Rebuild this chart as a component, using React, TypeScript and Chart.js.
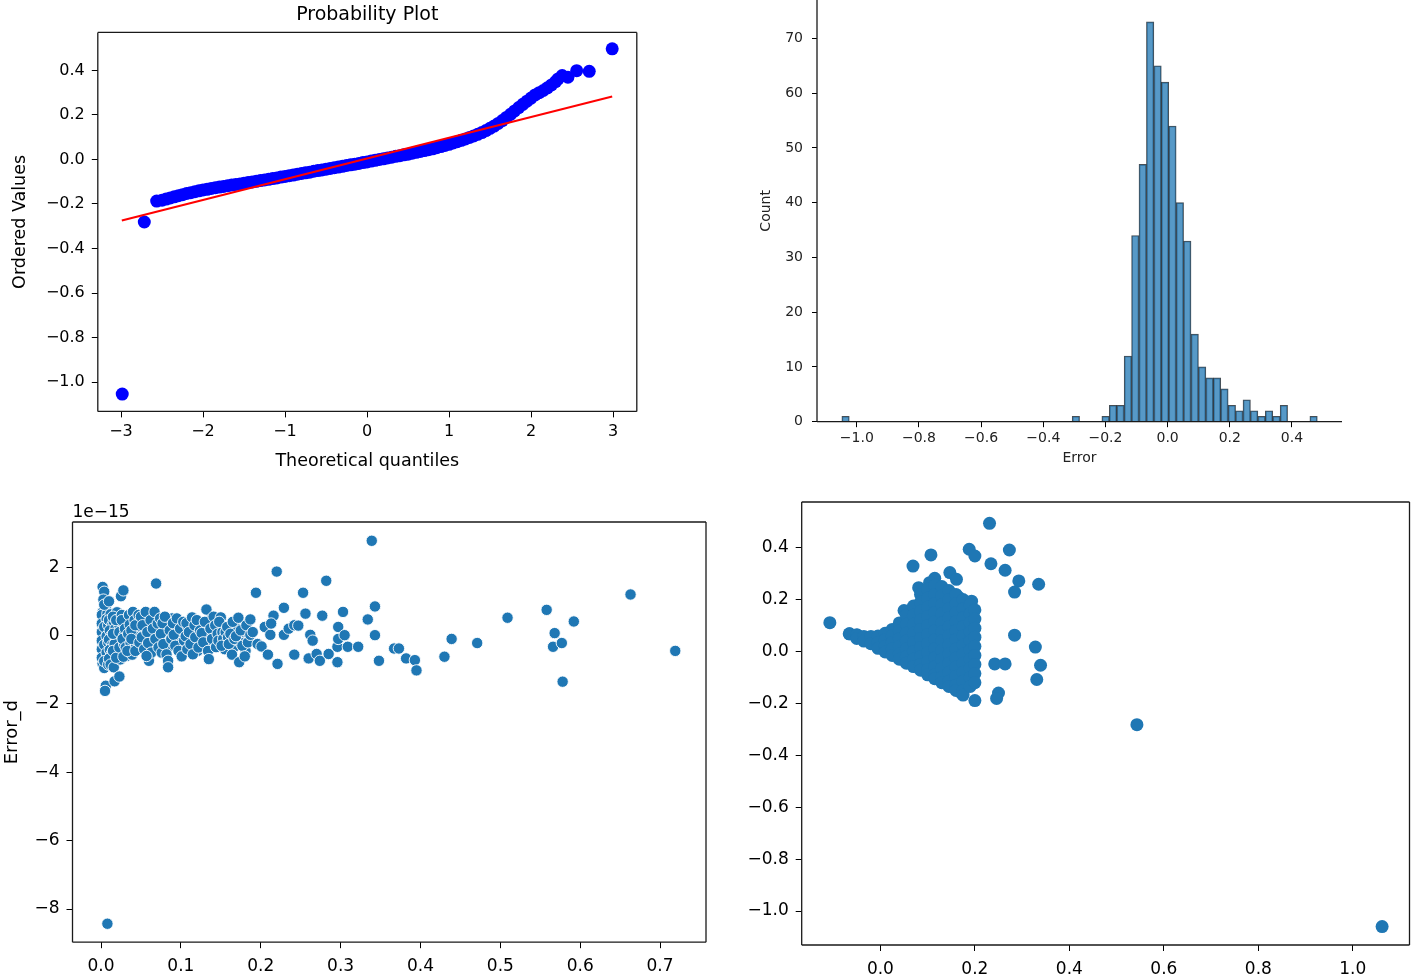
import React, { useEffect, useRef } from 'react';
import { Chart, registerables } from 'chart.js';

Chart.register(...registerables);

const FONT = '"DejaVu Sans", sans-serif';

// ---------- Panel 1: Probability plot ----------
const QQ_TITLE = 'Probability Plot';
const QQ_X_LABEL = 'Theoretical quantiles';
const QQ_Y_LABEL = 'Ordered Values';
const QQ_X = [-2.985, -2.716, -2.565, -2.5, -2.45, -2.4, -2.35, -2.3, -2.25, -2.2, -2.15, -2.1, -2.05, -2.0, -1.95, -1.9, -1.85, -1.8, -1.75, -1.7, -1.65, -1.6, -1.55, -1.5, -1.45, -1.4, -1.35, -1.3, -1.25, -1.2, -1.15, -1.1, -1.05, -1.0, -0.95, -0.9, -0.85, -0.8, -0.75, -0.7, -0.65, -0.6, -0.55, -0.5, -0.45, -0.4, -0.35, -0.3, -0.25, -0.2, -0.15, -0.1, -0.05, 0.0, 0.05, 0.1, 0.15, 0.2, 0.25, 0.3, 0.35, 0.4, 0.45, 0.5, 0.55, 0.6, 0.65, 0.7, 0.75, 0.8, 0.85, 0.9, 0.95, 1.0, 1.05, 1.1, 1.15, 1.2, 1.25, 1.3, 1.35, 1.4, 1.45, 1.5, 1.55, 1.6, 1.65, 1.7, 1.75, 1.8, 1.85, 1.9, 1.95, 2.0, 2.05, 2.1, 2.15, 2.2, 2.25, 2.3, 2.33, 2.38, 2.45, 2.557, 2.71, 2.99];
const QQ_Y = [-1.054, -0.281, -0.187, -0.183, -0.178, -0.173, -0.168, -0.163, -0.158, -0.153, -0.149, -0.145, -0.141, -0.137, -0.134, -0.13, -0.127, -0.124, -0.121, -0.118, -0.115, -0.112, -0.11, -0.107, -0.104, -0.101, -0.098, -0.095, -0.092, -0.089, -0.086, -0.083, -0.079, -0.076, -0.073, -0.07, -0.066, -0.063, -0.06, -0.057, -0.053, -0.05, -0.047, -0.044, -0.04, -0.037, -0.034, -0.031, -0.027, -0.024, -0.021, -0.018, -0.014, -0.011, -0.007, -0.004, 0.0, 0.003, 0.007, 0.01, 0.014, 0.017, 0.021, 0.024, 0.028, 0.032, 0.036, 0.04, 0.044, 0.048, 0.053, 0.058, 0.063, 0.068, 0.074, 0.08, 0.086, 0.092, 0.099, 0.106, 0.113, 0.121, 0.13, 0.14, 0.15, 0.162, 0.175, 0.189, 0.203, 0.218, 0.233, 0.248, 0.262, 0.276, 0.29, 0.3, 0.31, 0.322, 0.335, 0.35, 0.362, 0.377, 0.37, 0.399, 0.396, 0.497];
const FIT_X = [-2.99, 2.99];
const FIT_Y = [-0.274, 0.283];
const QQ_X_TICKS = [-3, -2, -1, 0, 1, 2, 3];
const QQ_Y_TICKS = [-1.0, -0.8, -0.6, -0.4, -0.2, 0.0, 0.2, 0.4];

// ---------- Panel 2: Histogram of Error ----------
const HIST_X_LABEL = 'Error';
const HIST_Y_LABEL = 'Count';
const HIST_CENTERS = [-1.0361, -0.2952, -0.1996, -0.1757, -0.1518, -0.1279, -0.104, -0.0801, -0.0562, -0.0323, -0.0084, 0.0155, 0.0394, 0.0633, 0.0872, 0.1111, 0.135, 0.1589, 0.1828, 0.2067, 0.2306, 0.2545, 0.2784, 0.3023, 0.3262, 0.3501, 0.374, 0.4696];
const HIST_COUNTS = [1, 1, 1, 3, 3, 12, 34, 47, 73, 65, 62, 54, 40, 33, 16, 10, 8, 8, 6, 3, 2, 4, 2, 1, 2, 1, 3, 1];
const HIST_X_TICKS = [-1.0, -0.8, -0.6, -0.4, -0.2, 0.0, 0.2, 0.4];
const HIST_Y_TICKS = [0, 10, 20, 30, 40, 50, 60, 70];

// ---------- Panel 3: Error_d scatter (values in units of 1e-15) ----------
const ERRD_Y_LABEL = 'Error_d';
const ERRD_OFFSET_TEXT = '1e\u221215';
const ERRD_POINTS: [number, number][] = [
  [0.002, 1.42], [0.004, 1.28], [0.003, 1.05], [0.006, 0.85], [0.002, 0.68], [0.005, 0.55], [0.003, 0.42], [0.006, 0.3], [0.002, 0.18], [0.005, 0.05], [0.003, -0.08], [0.006, -0.2], [0.002, -0.32], [0.005, -0.45], [0.003, -0.58], [0.006, -0.7], [0.002, -0.82], [0.004, -0.95], [0.006, -1.47], [0.005, -1.62], [0.008, -8.43],
  [0.001, 0.6], [0.001, 0.35], [0.001, 0.1], [0.001, -0.15], [0.001, -0.4], [0.001, -0.65], [0.008, 0.64], [0.008, 0.12], [0.008, -0.38], [0.008, -0.55],
  [0.004, 0.9], [0.007, 0.48], [0.004, 0.25], [0.007, -0.02], [0.004, -0.27], [0.007, -0.5], [0.004, -0.75], [0.009, -0.85], [0.009, 0.3], [0.009, -0.2],
  [0.010, 1.0], [0.012, 0.62], [0.010, 0.45], [0.014, 0.3], [0.011, 0.15], [0.013, 0.0], [0.010, -0.12], [0.014, -0.28], [0.011, -0.42], [0.013, -0.55], [0.010, -0.68], [0.012, -0.85], [0.016, -0.93], [0.017, -1.34], [0.023, -1.2], [0.016, 0.41], [0.020, 0.68], [0.019, -0.05], [0.021, -0.5], [0.018, 0.2], [0.017, -0.25], [0.022, 0.35], [0.024, -0.7],
  [0.015, 0.55], [0.015, 0.05], [0.015, -0.45], [0.019, 0.45], [0.019, -0.65], [0.023, 0.1], [0.023, -0.35], [0.026, 0.6], [0.029, 0.0], [0.029, -0.25], [0.032, 0.45], [0.032, -0.6],
  [0.025, 1.15], [0.028, 1.32], [0.026, 0.45], [0.030, 0.2], [0.027, -0.1], [0.031, -0.35], [0.028, -0.62], [0.035, 0.6], [0.036, 0.32], [0.034, 0.05], [0.037, -0.22], [0.039, -0.56], [0.040, 0.69], [0.042, 0.45], [0.041, 0.07], [0.044, -0.3], [0.046, 0.2], [0.033, -0.45], [0.045, -0.05],
  [0.038, 0.15], [0.038, -0.1], [0.043, 0.3], [0.043, -0.45], [0.047, 0.6], [0.048, -0.2], [0.053, 0.0], [0.055, 0.45], [0.061, -0.05], [0.064, 0.35], [0.066, -0.25], [0.070, 0.05],
  [0.050, 0.55], [0.052, 0.3], [0.051, -0.05], [0.054, -0.4], [0.056, 0.69], [0.058, 0.1], [0.059, -0.22], [0.060, -0.74], [0.062, 0.45], [0.063, -0.5], [0.065, 0.2], [0.067, 0.69], [0.069, 1.52], [0.068, -0.1], [0.071, 0.35], [0.072, -0.35], [0.057, -0.6],
  [0.074, 0.5], [0.076, -0.5], [0.079, 0.15], [0.083, 0.3], [0.087, -0.3], [0.089, 0.5], [0.092, -0.15], [0.096, 0.1], [0.098, 0.35], [0.102, -0.3],
  [0.075, 0.05], [0.077, 0.36], [0.078, -0.25], [0.080, 0.55], [0.082, -0.55], [0.084, -0.74], [0.084, -0.93], [0.086, 0.15], [0.088, -0.1], [0.090, 0.36], [0.091, 0.02], [0.093, -0.3], [0.095, 0.5], [0.097, -0.45], [0.099, 0.2], [0.101, -0.61],
  [0.109, 0.25], [0.111, -0.1], [0.116, 0.0], [0.119, 0.2], [0.121, -0.45], [0.127, 0.3], [0.129, -0.35], [0.133, 0.0], [0.136, 0.45], [0.140, -0.25], [0.142, 0.1],
  [0.103, 0.4], [0.104, -0.15], [0.106, -0.02], [0.107, 0.36], [0.108, -0.4], [0.110, 0.1], [0.112, -0.25], [0.114, 0.53], [0.115, -0.55], [0.117, 0.3], [0.118, -0.05], [0.120, 0.45], [0.122, -0.35], [0.124, 0.15], [0.126, 0.07], [0.128, -0.2],
  [0.130, 0.4], [0.132, 0.76], [0.134, -0.45], [0.135, -0.69], [0.137, 0.2], [0.139, -0.1], [0.141, 0.55], [0.143, 0.3], [0.144, -0.34], [0.146, 0.05], [0.147, -0.15], [0.150, 0.53], [0.152, 0.1], [0.153, -0.1], [0.155, -0.4],
  [0.148, 0.4], [0.151, -0.3], [0.156, 0.1], [0.159, -0.05], [0.163, 0.3], [0.166, -0.35], [0.170, 0.2], [0.174, -0.2], [0.178, 0.1], [0.181, -0.45], [0.185, 0.05],
  [0.158, 0.25], [0.160, -0.25], [0.162, 0.05], [0.164, -0.56], [0.165, 0.4], [0.167, -0.1], [0.169, -0.02], [0.172, 0.52], [0.173, -0.78], [0.175, 0.15], [0.177, -0.3], [0.180, -0.61], [0.182, 0.3], [0.184, -0.2], [0.187, 0.47], [0.187, 0.02], [0.190, 0.1],
  [0.194, 1.25], [0.196, -0.25], [0.201, -0.32], [0.205, 0.25], [0.209, -0.56], [0.212, 0.02], [0.216, 0.58], [0.213, 0.35], [0.220, 1.87], [0.221, -0.83], [0.229, 0.02], [0.229, 0.81], [0.235, 0.2], [0.242, 0.3], [0.242, -0.56], [0.247, 0.29], [0.253, 1.25], [0.256, 0.64], [0.260, -0.67], [0.262, 0.02], [0.265, -0.15], [0.270, -0.54], [0.274, -0.74], [0.277, 0.58], [0.282, 1.60], [0.285, -0.54], [0.296, -0.78], [0.296, -0.33], [0.297, 0.25], [0.297, -0.10], [0.303, 0.69], [0.305, 0.01], [0.309, -0.33], [0.322, -0.33],
  [0.334, 0.47], [0.339, 2.77], [0.343, 0.85], [0.343, 0.01], [0.348, -0.74], [0.367, -0.38], [0.373, -0.38], [0.382, -0.67], [0.393, -0.72], [0.395, -1.02], [0.430, -0.62], [0.439, -0.10], [0.471, -0.22], [0.509, 0.52], [0.558, 0.75], [0.566, -0.33], [0.568, 0.07], [0.577, -0.22], [0.578, -1.35], [0.592, 0.41], [0.663, 1.20], [0.719, -0.45],
];
const ERRD_X_TICKS = [0.0, 0.1, 0.2, 0.3, 0.4, 0.5, 0.6, 0.7];
const ERRD_Y_TICKS = [-8, -6, -4, -2, 0, 2];

// ---------- Panel 4: scatter ----------
const SCAT_POINTS: [number, number][] = [
  [-0.107, 0.111], [1.062, -1.06], [0.543, -0.282], [0.231, 0.494], [0.273, 0.391], [0.188, 0.394], [0.2, 0.368], [0.107, 0.372], [0.069, 0.329], [0.234, 0.338], [0.264, 0.313], [0.293, 0.272], [0.335, 0.259], [0.284, 0.229], [0.147, 0.304], [0.161, 0.278], [0.115, 0.282], [0.104, 0.265], [0.081, 0.246], [0.05, 0.158], [0.165, 0.21], [0.193, 0.194], [0.284, 0.063], [0.328, 0.017], [0.339, -0.053], [0.331, -0.108], [0.242, -0.048], [0.264, -0.048], [0.25, -0.16], [0.246, -0.181], [0.2, -0.189], [0.172, -0.162], [-0.066, 0.068], [-0.049, 0.063],
  [-0.065, 0.068], [-0.05, 0.064], [-0.05, 0.05], [-0.035, 0.058], [-0.035, 0.04], [-0.02, 0.058], [-0.02, 0.03], [-0.005, 0.06], [-0.005, 0.035], [-0.005, 0.012],
  [0.01, 0.07], [0.01, 0.045], [0.01, 0.02], [0.01, -0.002],
  [0.025, 0.085], [0.025, 0.06], [0.025, 0.035], [0.025, 0.01], [0.025, -0.015],
  [0.04, 0.11], [0.04, 0.08], [0.04, 0.05], [0.04, 0.02], [0.04, -0.01], [0.04, -0.03],
  [0.055, 0.14], [0.055, 0.105], [0.055, 0.07], [0.055, 0.04], [0.055, 0.01], [0.055, -0.02], [0.055, -0.045],
  [0.07, 0.175], [0.07, 0.14], [0.07, 0.105], [0.07, 0.07], [0.07, 0.035], [0.07, 0.0], [0.07, -0.03], [0.07, -0.058],
  [0.085, 0.22], [0.085, 0.19], [0.085, 0.155], [0.085, 0.12], [0.085, 0.085], [0.085, 0.05], [0.085, 0.015], [0.085, -0.02], [0.085, -0.05], [0.085, -0.072],
  [0.1, 0.24], [0.1, 0.205], [0.1, 0.17], [0.1, 0.135], [0.1, 0.1], [0.1, 0.065], [0.1, 0.03], [0.1, -0.005], [0.1, -0.04], [0.1, -0.07], [0.1, -0.09],
  [0.115, 0.255], [0.115, 0.22], [0.115, 0.185], [0.115, 0.15], [0.115, 0.115], [0.115, 0.08], [0.115, 0.045], [0.115, 0.01], [0.115, -0.025], [0.115, -0.06], [0.115, -0.09], [0.115, -0.105],
  [0.13, 0.25], [0.13, 0.215], [0.13, 0.18], [0.13, 0.145], [0.13, 0.11], [0.13, 0.075], [0.13, 0.04], [0.13, 0.005], [0.13, -0.03], [0.13, -0.065], [0.13, -0.1], [0.13, -0.12],
  [0.145, 0.235], [0.145, 0.2], [0.145, 0.165], [0.145, 0.13], [0.145, 0.095], [0.145, 0.06], [0.145, 0.025], [0.145, -0.01], [0.145, -0.045], [0.145, -0.08], [0.145, -0.115], [0.145, -0.135],
  [0.16, 0.22], [0.16, 0.185], [0.16, 0.15], [0.16, 0.115], [0.16, 0.08], [0.16, 0.045], [0.16, 0.01], [0.16, -0.025], [0.16, -0.06], [0.16, -0.095], [0.16, -0.13], [0.16, -0.15],
  [0.175, 0.2], [0.175, 0.165], [0.175, 0.13], [0.175, 0.095], [0.175, 0.06], [0.175, 0.025], [0.175, -0.01], [0.175, -0.045], [0.175, -0.08], [0.175, -0.115], [0.175, -0.15], [0.175, -0.168],
  [0.19, 0.18], [0.19, 0.145], [0.19, 0.11], [0.19, 0.075], [0.19, 0.04], [0.19, 0.005], [0.19, -0.03], [0.19, -0.065], [0.19, -0.1], [0.19, -0.135],
  [0.2, 0.16], [0.2, 0.125], [0.2, 0.09], [0.2, 0.055], [0.2, 0.02], [0.2, -0.015], [0.2, -0.05], [0.2, -0.085], [0.2, -0.12],
];
const SCAT_X_TICKS = [0.0, 0.2, 0.4, 0.6, 0.8, 1.0];
const SCAT_Y_TICKS = [-1.0, -0.8, -0.6, -0.4, -0.2, 0.0, 0.2, 0.4];

// ---------- helpers ----------
const minus = (s: string) => s.replace('-', '\u2212');
const fmt1 = (v: number) => minus(Math.abs(v) < 1e-9 ? '0.0' : v.toFixed(1));
const fmt0 = (v: number) => minus(String(Math.round(v)));

type AxisSpec = {
  min: number; max: number; ticks: number[]; fmt: (v: number) => string;
  fontSize: number; tickLen: number; pad: number; size: number; horizontal: boolean;
  title?: string; titleSize?: number; titlePad?: number; color?: string;
};

function linAxis(a: AxisSpec): any {
  const color = a.color || '#000';
  return {
    type: 'linear',
    min: a.min,
    max: a.max,
    offset: false,
    afterBuildTicks: (s: any) => { s.ticks = a.ticks.map((v) => ({ value: v })); },
    afterFit: (s: any) => {
      if (a.horizontal) s.height = a.size; else s.width = a.size;
      s.paddingTop = 0; s.paddingBottom = 0; s.paddingLeft = 0; s.paddingRight = 0;
    },
    ticks: {
      callback: (v: any) => a.fmt(Number(v)),
      font: { family: FONT, size: a.fontSize },
      color,
      padding: a.pad,
      maxRotation: 0,
      minRotation: 0,
      autoSkip: false,
    },
    grid: { display: true, drawOnChartArea: false, drawTicks: true, tickLength: a.tickLen, color: '#000', lineWidth: 1, offset: false },
    border: { display: false },
    title: a.title
      ? {
          display: true,
          text: a.title,
          font: { family: FONT, size: a.titleSize },
          color,
          padding: a.horizontal ? { top: 0, bottom: a.titlePad } : { top: a.titlePad, bottom: 0 },
        }
      : { display: false },
  };
}

const framePlugin = (sides: string[]) => ({
  id: 'frame',
  afterDatasetsDraw(chart: any) {
    const { ctx, chartArea: c } = chart;
    ctx.save();
    ctx.strokeStyle = '#1a1a1a';
    ctx.lineWidth = 1.3;
    ctx.beginPath();
    if (sides.includes('top')) { ctx.moveTo(c.left, c.top); ctx.lineTo(c.right, c.top); }
    if (sides.includes('right')) { ctx.moveTo(c.right, c.top); ctx.lineTo(c.right, c.bottom); }
    if (sides.includes('bottom')) { ctx.moveTo(c.left, c.bottom); ctx.lineTo(c.right, c.bottom); }
    if (sides.includes('left')) { ctx.moveTo(c.left, c.top); ctx.lineTo(c.left, c.bottom); }
    ctx.stroke();
    ctx.restore();
  },
});

const offsetTextPlugin = (text: string) => ({
  id: 'offsetText',
  afterDraw(chart: any) {
    const { ctx, chartArea: c } = chart;
    ctx.save();
    ctx.font = `17px ${FONT}`;
    ctx.fillStyle = '#000';
    ctx.textAlign = 'left';
    ctx.textBaseline = 'alphabetic';
    ctx.fillText(text, c.left, c.top - 5);
    ctx.restore();
  },
});

const baseOptions = {
  responsive: false,
  animation: false,
  events: [] as any[],
};

function qqConfig(): any {
  return {
    type: 'scatter',
    data: {
      datasets: [
        {
          type: 'line',
          data: FIT_X.map((x, i) => ({ x, y: FIT_Y[i] })),
          borderColor: '#ff0000',
          borderWidth: 2,
          pointRadius: 0,
          showLine: true,
          fill: false,
          order: 0,
        },
        {
          data: QQ_X.map((x, i) => ({ x, y: QQ_Y[i] })),
          backgroundColor: '#0000ff',
          borderColor: '#0000ff',
          borderWidth: 0,
          pointRadius: 6.5,
          order: 1,
        },
      ],
    },
    options: {
      ...baseOptions,
      layout: { padding: { left: 0, right: 96.2, top: 0, bottom: 0 } },
      plugins: {
        legend: { display: false },
        tooltip: { enabled: false },
        title: {
          display: true,
          fullSize: false,
          text: QQ_TITLE,
          color: '#000',
          font: { family: FONT, size: 19, weight: 'normal' },
          padding: { top: 3.6, bottom: 6 },
        },
      },
      scales: {
        x: linAxis({ min: -3.283, max: 3.29, ticks: QQ_X_TICKS, fmt: fmt0, fontSize: 16, tickLen: 6, pad: 4.4, size: 68.6, horizontal: true, title: QQ_X_LABEL, titleSize: 17.5, titlePad: 8 }),
        y: linAxis({ min: -1.132, max: 0.571, ticks: QQ_Y_TICKS, fmt: fmt1, fontSize: 16, tickLen: 6, pad: 7, size: 97.8, horizontal: false, title: QQ_Y_LABEL, titleSize: 17.5, titlePad: 10.3 }),
      },
    },
    plugins: [framePlugin(['top', 'right', 'bottom', 'left'])],
  };
}

function histConfig(): any {
  return {
    type: 'bar',
    data: {
      datasets: [
        {
          data: HIST_CENTERS.map((x, i) => ({ x, y: HIST_COUNTS[i] })),
          backgroundColor: 'rgba(31,119,180,0.75)',
          borderColor: 'rgba(10,20,30,0.75)',
          borderWidth: 1,
          categoryPercentage: 1.0,
          barPercentage: 1.0,
        },
      ],
    },
    options: {
      ...baseOptions,
      layout: { padding: { left: 0, right: 74, top: 0, bottom: 0 } },
      plugins: { legend: { display: false }, tooltip: { enabled: false } },
      scales: {
        x: linAxis({ min: -1.128, max: 0.561, ticks: HIST_X_TICKS, fmt: fmt1, fontSize: 14, tickLen: 5.5, pad: 3, size: 58.3, horizontal: true, title: HIST_X_LABEL, titleSize: 14, titlePad: 13.3, color: '#222' }),
        y: linAxis({ min: 0, max: 77, ticks: HIST_Y_TICKS, fmt: fmt0, fontSize: 14, tickLen: 5, pad: 9, size: 77, horizontal: false, title: HIST_Y_LABEL, titleSize: 14, titlePad: 17.6, color: '#222' }),
      },
    },
    plugins: [framePlugin(['bottom', 'left'])],
  };
}

function errdConfig(): any {
  return {
    type: 'scatter',
    data: {
      datasets: [
        {
          data: ERRD_POINTS.map(([x, y]) => ({ x, y })),
          backgroundColor: '#1f77b4',
          borderColor: '#ffffff',
          borderWidth: 0.9,
          pointRadius: 5.7,
        },
      ],
    },
    options: {
      ...baseOptions,
      layout: { padding: { left: 0, right: 14, top: 32, bottom: 0 } },
      plugins: { legend: { display: false }, tooltip: { enabled: false } },
      scales: {
        x: linAxis({ min: -0.0357, max: 0.7575, ticks: ERRD_X_TICKS, fmt: fmt1, fontSize: 17, tickLen: 6, pad: 8.1, size: 35.8, horizontal: true }),
        y: linAxis({ min: -8.97, max: 3.32, ticks: ERRD_Y_TICKS, fmt: fmt0, fontSize: 17, tickLen: 6, pad: 7, size: 72.5, horizontal: false, title: ERRD_Y_LABEL, titleSize: 18, titlePad: 1.2 }),
      },
    },
    plugins: [framePlugin(['top', 'right', 'bottom', 'left']), offsetTextPlugin(ERRD_OFFSET_TEXT)],
  };
}

function scatConfig(): any {
  return {
    type: 'scatter',
    data: {
      datasets: [
        {
          data: SCAT_POINTS.map(([x, y]) => ({ x, y })),
          backgroundColor: '#1f77b4',
          borderColor: '#1f77b4',
          borderWidth: 0,
          pointRadius: 6.5,
        },
      ],
    },
    options: {
      ...baseOptions,
      layout: { padding: { left: 0, right: 2, top: 12, bottom: 0 } },
      plugins: { legend: { display: false }, tooltip: { enabled: false } },
      scales: {
        x: linAxis({ min: -0.1666, max: 1.12, ticks: SCAT_X_TICKS, fmt: fmt1, fontSize: 17, tickLen: 6, pad: 8.8, size: 33, horizontal: true }),
        y: linAxis({ min: -1.131, max: 0.576, ticks: SCAT_Y_TICKS, fmt: fmt1, fontSize: 17, tickLen: 6, pad: 7, size: 71.7, horizontal: false }),
      },
    },
    plugins: [framePlugin(['top', 'right', 'bottom', 'left'])],
  };
}

function Panel({ left, top, width, height, make }: { left: number; top: number; width: number; height: number; make: () => any }) {
  const ref = useRef<HTMLCanvasElement | null>(null);
  useEffect(() => {
    if (!ref.current) return;
    const chart = new Chart(ref.current, make());
    return () => chart.destroy();
  }, []);
  return (
    <canvas
      ref={ref}
      width={width}
      height={height}
      style={{ position: 'absolute', left, top, width, height, display: 'block' }}
    />
  );
}

export default function App() {
  return (
    <div style={{ position: 'absolute', left: 0, top: 0, width: 1416, height: 978, background: '#ffffff', overflow: 'hidden' }}>
      <Panel left={0} top={0} width={733} height={480} make={qqConfig} />
      <Panel left={740} top={0} width={676} height={480} make={histConfig} />
      <Panel left={0} top={490} width={720} height={488} make={errdConfig} />
      <Panel left={730} top={490} width={686} height={488} make={scatConfig} />
    </div>
  );
}
